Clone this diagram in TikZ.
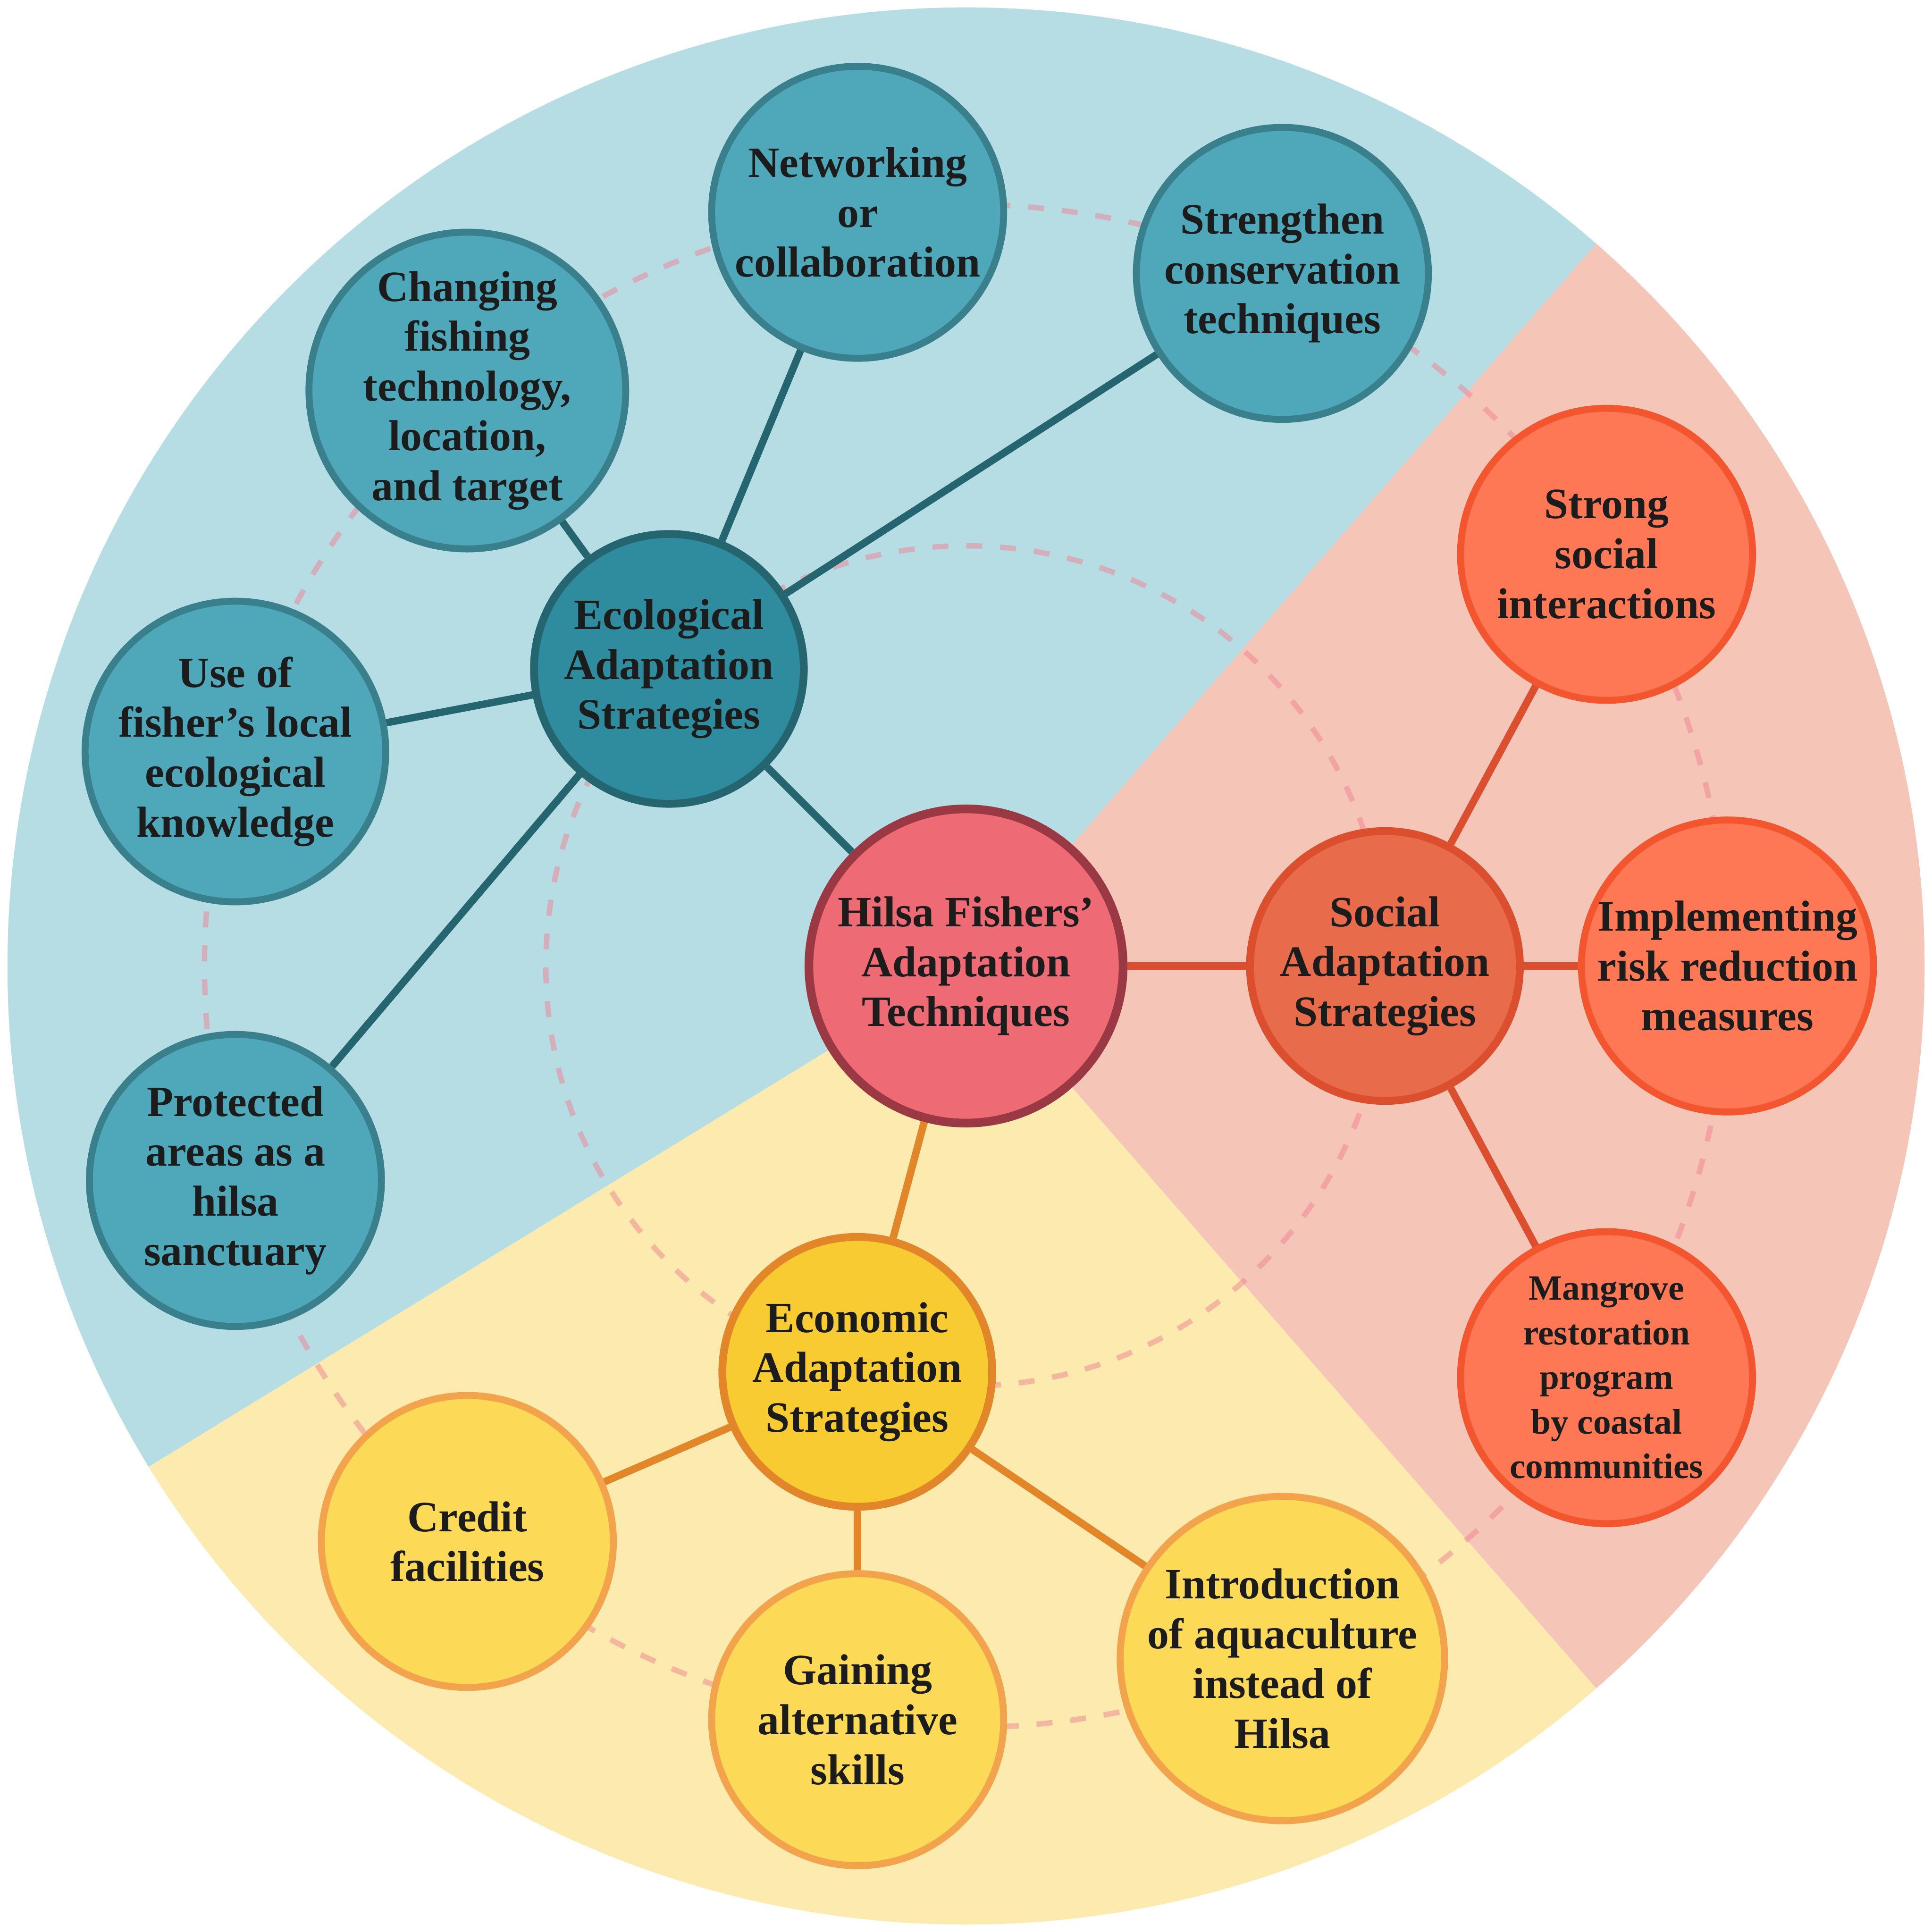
\documentclass[tikz,border=0pt]{standalone}
\usepackage{fontspec}
\setmainfont{Liberation Serif}

\definecolor{ecobg}{HTML}{B7DDE4}
\definecolor{socbg}{HTML}{F5C5B7}
\definecolor{econbg}{HTML}{FCEAAE}
\definecolor{hubfill}{HTML}{EE6A74}
\definecolor{hubdraw}{HTML}{9A3844}
\definecolor{ecofill}{HTML}{2F8B9E}
\definecolor{ecodraw}{HTML}{24656F}
\definecolor{ecoleaf}{HTML}{4FA8BA}
\definecolor{ecoleafdraw}{HTML}{3A7F8C}
\definecolor{socfill}{HTML}{E86B4B}
\definecolor{socdraw}{HTML}{DB4E2E}
\definecolor{socleaf}{HTML}{FF7855}
\definecolor{socleafdraw}{HTML}{F3562F}
\definecolor{econfill}{HTML}{F8CB33}
\definecolor{econdraw}{HTML}{E3862A}
\definecolor{econleaf}{HTML}{FDD958}
\definecolor{econleafdraw}{HTML}{F2A34B}
\definecolor{ringpink}{HTML}{EF8394}
\definecolor{ink}{HTML}{1C1C1C}

\tikzset{
	label text/.style={align=center, text=ink, inner sep=0pt,
		font={\fontsize{10}{11.5}\selectfont\bfseries}},
	hub/.style={circle, label text, line width=2pt, minimum size=2.55cm,
		draw=hubdraw, fill=hubfill},
	branch/.style={circle, label text, line width=1.8pt, minimum size=2.19cm},
	leaf/.style={circle, label text, line width=1.6pt, minimum size=2.37cm},
	ring/.style={draw=ringpink, draw opacity=0.5, line width=1.25pt,
		dash pattern=on 1.3mm off 1.45mm},
	link/.style={line width=1.7pt}
}

\begin{document}
\begin{tikzpicture}
	\useasboundingbox (-7.84,-7.84) rectangle (7.84,7.84);
	\fill[socbg] (0,0) -- (-48.9:7.78) arc (-48.9:48.9:7.78) -- cycle;
	\fill[ecobg] (0,0) -- (48.9:7.78) arc (48.9:211.5:7.78) -- cycle;
	\fill[econbg] (0,0) -- (211.5:7.78) arc (211.5:311.1:7.78) -- cycle;
	\draw[ring] (0,0) circle (3.41);
	\draw[ring] (0,0) circle (6.18);

	\node[hub] (hub) at (0,0) {Hilsa Fishers’\\Adaptation\\Techniques};
	\node[branch, draw=ecodraw, fill=ecofill] (eco) at (135:3.41) {Ecological\\Adaptation\\Strategies};
	\node[branch, draw=socdraw, fill=socfill] (soc) at (0:3.40) {Social\\Adaptation\\Strategies};
	\node[branch, draw=econdraw, fill=econfill] (econ) at (255:3.41) {Economic\\Adaptation\\Strategies};

	\node[leaf, draw=ecoleafdraw, fill=ecoleaf] (cons) at (65.45:6.18) {Strengthen\\conservation\\techniques};
	\node[leaf, draw=ecoleafdraw, fill=ecoleaf] (net) at (98.18:6.18) {Networking\\or\\collaboration};
	\node[leaf, draw=ecoleafdraw, fill=ecoleaf] (tech) at (130.91:6.18) {Changing\\fishing\\technology,\\location,\\and target};
	\node[leaf, draw=ecoleafdraw, fill=ecoleaf] (lek) at (163.64:6.18) {Use of\\fisher’s local\\ecological\\knowledge};
	\node[leaf, draw=ecoleafdraw, fill=ecoleaf] (sanct) at (196.36:6.18) {Protected\\areas as a\\hilsa\\sanctuary};
	\node[leaf, draw=socleafdraw, fill=socleaf] (inter) at (32.73:6.18) {Strong\\social\\interactions};
	\node[leaf, draw=socleafdraw, fill=socleaf] (risk) at (0:6.18) {Implementing\\risk reduction\\measures};
	\node[leaf, draw=socleafdraw, fill=socleaf, font={\fontsize{8.2}{10.3}\selectfont\bfseries}] (mang) at (327.27:6.18) {Mangrove\\restoration\\program\\by coastal\\communities};
	\node[leaf, draw=econleafdraw, fill=econleaf] (credit) at (229.09:6.18) {Credit\\facilities};
	\node[leaf, draw=econleafdraw, fill=econleaf] (skills) at (261.82:6.18) {Gaining\\alternative\\skills};
	\node[leaf, draw=econleafdraw, fill=econleaf] (aqua) at (294.55:6.18) {Introduction\\of aquaculture\\instead of\\Hilsa};

	\draw[link, ecodraw] (hub) -- (eco);
	\draw[link, socdraw] (hub) -- (soc);
	\draw[link, econdraw] (hub) -- (econ);
	\foreach \l in {cons,net,tech,lek,sanct}
		\draw[link, ecodraw] (eco) -- (\l);
	\foreach \l in {inter,risk,mang}
		\draw[link, socdraw] (soc) -- (\l);
	\foreach \l in {credit,skills,aqua}
		\draw[link, econdraw] (econ) -- (\l);
\end{tikzpicture}
\end{document}
